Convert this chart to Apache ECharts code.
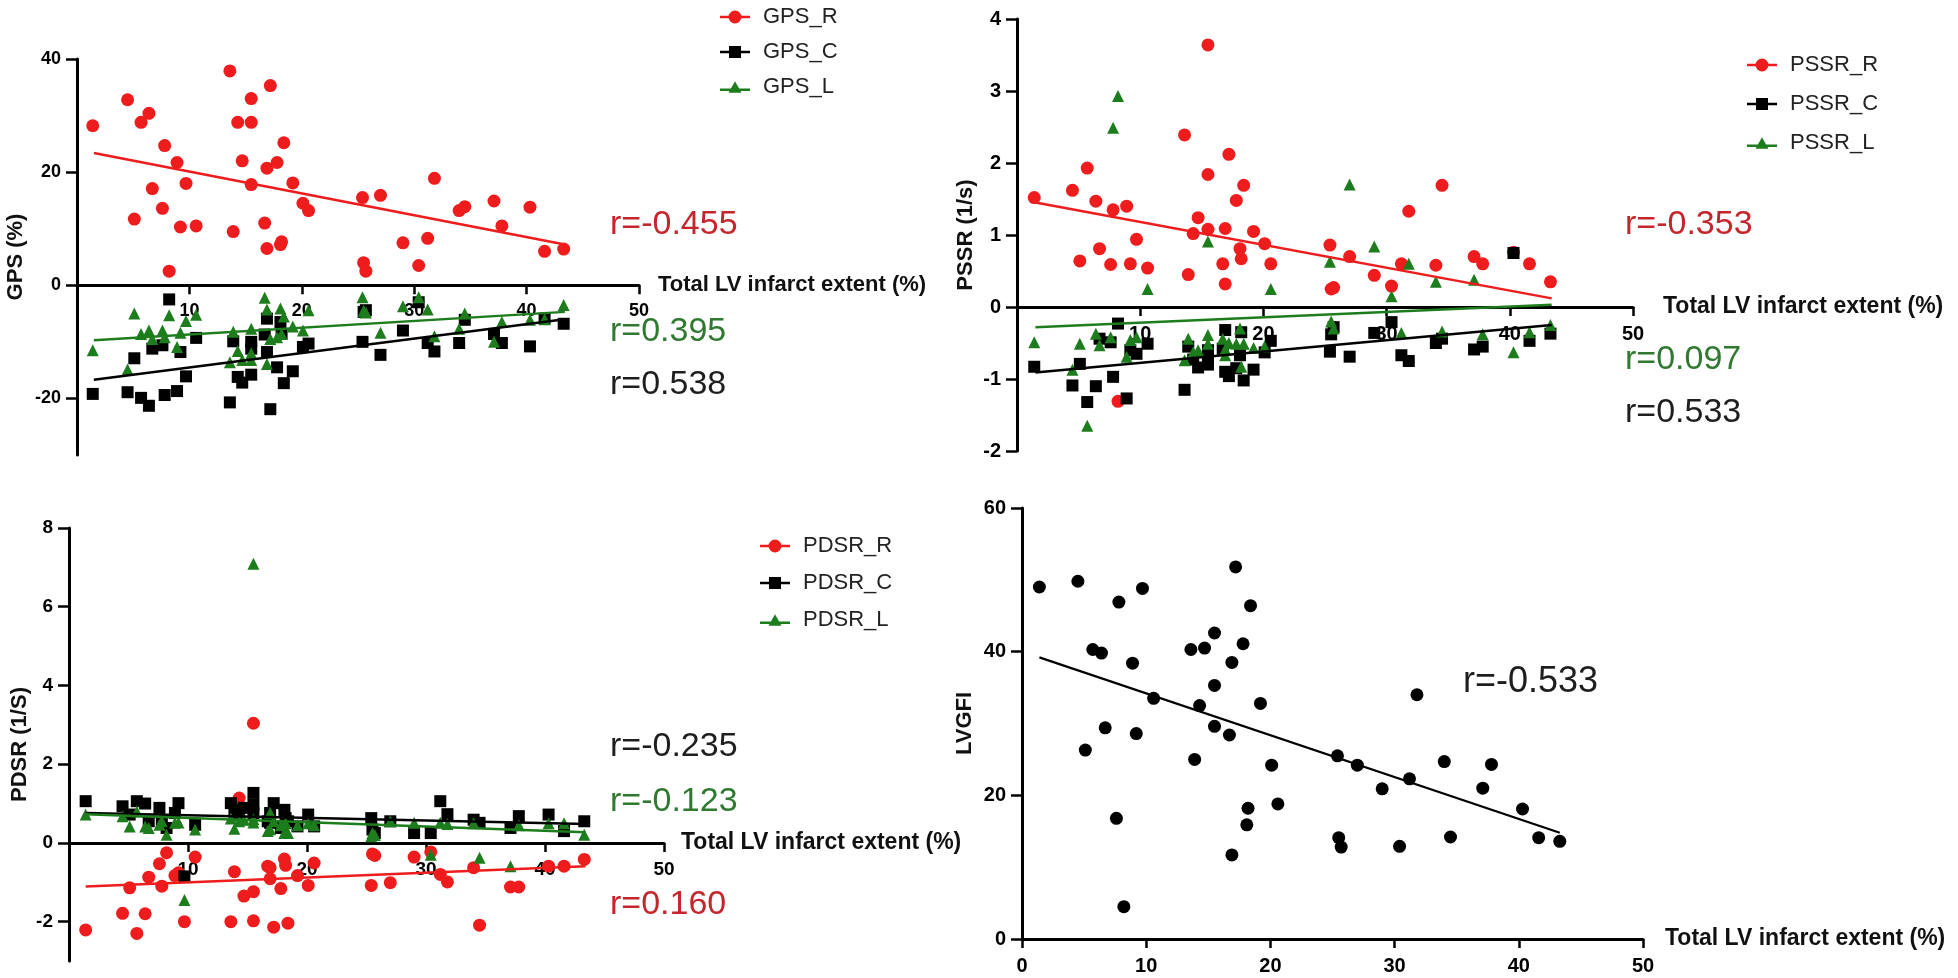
<!DOCTYPE html>
<html>
<head>
<meta charset="utf-8">
<script src="https://cdn.jsdelivr.net/npm/echarts@6/dist/echarts.min.js"></script>
<style>
html,body{margin:0;padding:0;background:#fff;}
#c{width:1958px;height:978px;}
</style>
</head>
<body>
<div id="c"></div>
<script>
// ---------- DATA ----------
// Total LV infarct extent (%) per patient (shared x values)
const infarctX = [1.4, 4.5, 5.1, 5.7, 6.4, 6.7, 7.6, 7.8, 8.2, 8.9, 9.2, 9.7, 10.6, 13.6, 13.9, 14.3, 14.7, 15.5, 15.5, 15.5,
  16.7, 16.9, 16.9, 17.2, 17.8, 18.1, 18.2, 18.4, 19.2, 20.1, 20.6, 25.4, 25.5, 25.7, 27.0, 29.0, 30.4, 31.2, 31.8, 34.0,
  34.5, 37.1, 37.8, 40.3, 41.6, 43.3];

const gpsR = [28.2, 32.8, 11.7, 28.8, 30.4, 17.1, 13.6, 24.7, 2.5, 21.7, 10.3, 18.0, 10.5, 37.9, 9.5, 28.8, 22.0, 33.0, 28.8, 17.8,
  11.0, 20.7, 6.5, 35.3, 21.7, 7.2, 7.7, 25.2, 18.1, 14.5, 13.2, 15.5, 4.0, 2.5, 15.9, 7.5, 3.5, 8.3, 18.9, 13.2,
  13.9, 14.9, 10.5, 13.8, 6.0, 6.4];
const gpsC = [-19.2, -18.9, -12.9, -19.9, -21.3, -11.2, -10.6, -19.4, -2.5, -18.7, -11.8, -16.1, -9.3, -20.7, -9.9, -16.2, -17.2, -11.2, -15.8, -10.0,
  -8.7, -11.8, -5.9, -21.9, -14.5, -6.5, -8.6, -17.3, -15.2, -10.9, -10.3, -10.0, -4.7, -4.4, -12.3, -8.0, -3.0, -10.2, -11.7, -10.2,
  -6.1, -8.6, -10.2, -10.8, -5.9, -6.8];
const gpsL = [-11.5, -14.9, -5.0, -8.6, -8.0, -9.5, -8.0, -9.2, -5.3, -10.9, -8.4, -6.3, -5.2, -13.6, -8.2, -11.6, -13.2, -7.7, -13.2, -12.0,
  -2.2, -13.9, -4.3, -9.5, -9.2, -4.1, -8.6, -5.5, -7.3, -8.0, -4.4, -2.1, -4.5, -4.8, -8.4, -3.7, -2.1, -4.3, -9.0, -7.7,
  -5.0, -10.0, -6.5, -6.1, -6.0, -3.5];
const gpsFitR = [[1.5, 23.4], [43.4, 7.2]];
const gpsFitC = [[1.5, -16.7], [43.4, -6.0]];
const gpsFitL = [[1.5, -9.7], [43.4, -4.7]];

const pssrR = [1.52, 1.62, 0.64, 1.93, 1.47, 0.81, 0.59, 1.35, -1.31, 1.40, 0.60, 0.94, 0.54, 2.39, 0.45, 1.02, 1.24, 3.64, 1.84, 1.08,
  0.60, 1.09, 0.32, 2.12, 1.48, 0.81, 0.67, 1.69, 1.05, 0.88, 0.60, 0.86, 0.25, 0.27, 0.70, 0.44, 0.29, 0.60, 1.33, 0.58,
  1.69, 0.70, 0.60, 0.76, 0.60, 0.35];
const pssrC = [-0.83, -1.09, -0.79, -1.32, -1.10, -0.44, -0.49, -0.97, -0.23, -1.27, -0.60, -0.65, -0.51, -1.15, -0.55, -0.73, -0.84, -0.60, -0.80, -0.72,
  -0.58, -0.32, -0.90, -0.96, -0.85, -0.67, -0.35, -1.02, -0.87, -0.63, -0.47, -0.62, -0.38, -0.28, -0.69, -0.36, -0.21, -0.67, -0.75, -0.50,
  -0.44, -0.59, -0.55, 0.75, -0.47, -0.37];
const pssrL = [-0.49, -0.87, -0.51, -1.65, -0.37, -0.53, -0.42, 2.49, 2.93, -0.69, -0.46, -0.42, 0.25, -0.74, -0.44, -0.63, -0.60, 0.91, -0.39, -0.51,
  -0.44, -0.67, -0.59, -0.50, -0.51, -0.30, -0.83, -0.51, -0.57, -0.55, 0.25, 0.63, -0.20, -0.30, 1.70, 0.84, 0.15, -0.36, 0.60, 0.35,
  -0.34, 0.38, -0.38, -0.63, -0.35, -0.25];
const pssrFitR = [[1.5, 1.45], [43.4, 0.12]];
const pssrFitC = [[1.5, -0.91], [43.4, -0.25]];
const pssrFitL = [[1.5, -0.28], [43.4, 0.03]];

const pdsrR = [-2.21, -1.79, -1.14, -2.30, -1.80, -0.87, -0.53, -1.10, -0.25, -0.83, -0.76, -2.00, -0.36, -2.00, -0.73, 1.14, -1.35, 3.04, -1.24, -1.98,
  -0.59, -0.91, -0.63, -2.14, -1.16, -0.41, -0.57, -2.04, -0.83, -1.08, -0.51, -1.08, -0.28, -0.32, -1.01, -0.36, -0.23, -0.80, -0.99, -0.63,
  -2.09, -1.12, -1.12, -0.59, -0.59, -0.42];
const pdsrC = [1.06, 0.93, 0.72, 1.06, 1.00, 0.55, 0.89, 0.51, 0.38, 0.76, 1.01, -0.85, 0.46, 1.01, 0.84, 0.70, 0.89, 1.27, 0.97, 0.76,
  0.55, 0.51, 0.76, 1.01, 0.38, 0.84, 0.63, 0.55, 0.42, 0.72, 0.42, 0.63, 0.34, 0.25, 0.55, 0.25, 0.25, 1.06, 0.73, 0.59,
  0.51, 0.38, 0.68, 0.72, 0.30, 0.55];
const pdsrL = [0.72, 0.68, 0.42, 0.80, 0.42, 0.38, 0.46, 0.55, 0.21, 0.51, 0.52, -1.45, 0.34, 0.62, 0.36, 0.55, 0.59, 7.09, 0.52, 0.60,
  0.30, 0.35, 0.76, 0.55, 0.45, 0.25, 0.50, 0.25, 0.45, 0.50, 0.45, 0.17, 0.25, 0.20, 0.55, 0.51, -0.30, 0.51, 0.48, 0.50,
  -0.38, -0.59, 0.45, 0.50, 0.50, 0.21];
const pdsrFitR = [[1.4, -1.11], [43.4, -0.59]];
const pdsrFitC = [[1.4, 0.76], [43.4, 0.48]];
const pdsrFitL = [[1.4, 0.73], [43.4, 0.27]];

const lvgfi = [49.0, 49.8, 26.3, 40.3, 39.8, 29.4, 16.8, 46.9, 4.5, 38.4, 28.6, 48.8, 33.5, 40.3, 25.0, 32.5, 40.5, 42.6, 35.3, 29.6,
  28.4, 38.5, 11.7, 51.8, 41.1, 15.9, 18.2, 46.4, 32.8, 24.2, 18.8, 25.5, 14.1, 12.8, 24.2, 20.9, 12.9, 22.3, 34.0, 24.7,
  14.2, 21.0, 24.3, 18.1, 14.1, 13.6];
const lvgfiFit = [[1.4, 39.2], [43.3, 14.8]];

// tick labels
const xTickTop = [10, 20, 30, 40, 50];
const gpsTicks = [-20, 0, 20, 40];
const pdsrTicks = [-2, 0, 2, 4, 6, 8];

// r annotations
const rLabels = [
  {t: 'r=-0.455', c: 'red'}, {t: 'r=0.395', c: 'green'}, {t: 'r=0.538', c: 'black'},
  {t: 'r=-0.353', c: 'red'}, {t: 'r=0.097', c: 'green'}, {t: 'r=0.533', c: 'black'},
  {t: 'r=-0.235', c: 'black'}, {t: 'r=-0.123', c: 'green'}, {t: 'r=0.160', c: 'red'},
  {t: 'r=-0.533', c: 'black'}
];

// ---------- STYLE ----------
const RED = '#ee1c1c', BLK = '#000000', GRN = '#1d7d1d';
const TXT = {red: '#c4262c', green: '#2f7a30', black: '#1e1e1e'};
const tickFont = '"Liberation Sans Narrow","Liberation Sans",Arial,sans-serif';
const textFont = '"Liberation Sans",Arial,sans-serif';

const ICON_CIRCLE = 'path://M0,5.25H30V7.75H0Z M15,0A6.5,6.5,0,1,1,14.99,0Z';
const ICON_SQUARE = 'path://M0,5.25H30V7.75H0Z M9,0.5H21V12.5H9Z';
const ICON_TRI = 'path://M0,8.25H30V10.75H0Z M15,1L21.5,12.5H8.5Z';

const grids = [
  {left: 77, top: 59, width: 562, height: 396},
  {left: 1017, top: 19, width: 616, height: 432},
  {left: 69, top: 528, width: 595, height: 433},
  {left: 1022, top: 508, width: 621, height: 431}
];
const yRanges = [[-30, 40], [-2, 4], [-3, 8], [0, 60]];

const pairs = ys => infarctX.map((x, i) => [x, ys[i]]);

// offset that places the x axis (line, ticks, labels, name) at y = 0 of its grid
const zeroOffset = gi => -grids[gi].height * (0 - yRanges[gi][0]) / (yRanges[gi][1] - yRanges[gi][0]);

function xAxisCfg(gi, labelSize, labels, nameGap, namePad) {
  const a = {
    gridIndex: gi, type: 'value', min: 0, max: 50, interval: 10,
    position: 'bottom', offset: zeroOffset(gi),
    axisLine: {onZero: false, lineStyle: {color: '#000', width: 3}},
    axisTick: {show: true, length: 9, lineStyle: {color: '#000', width: 2.5}},
    axisLabel: {fontFamily: tickFont, fontWeight: 'bold', fontSize: labelSize, color: '#000', margin: 17},
    splitLine: {show: false},
    name: 'Total LV infarct extent (%)', nameLocation: 'end', nameGap: nameGap,
    nameTextStyle: {fontFamily: textFont, fontWeight: 'bold', fontSize: gi === 0 ? 22 : 23, color: '#111', padding: namePad || 0}
  };
  if (labels) {
    a.axisLabel.customValues = labels;
    a.axisTick.customValues = labels;
  }
  return a;
}
function yAxisCfg(gi, name, ticks, interval, labelSize, nameGap) {
  const a = {
    gridIndex: gi, type: 'value', min: yRanges[gi][0], max: yRanges[gi][1],
    axisLine: {onZero: false, lineStyle: {color: '#000', width: 3}},
    axisTick: {show: true, length: 11, lineStyle: {color: '#000', width: 2.5}},
    axisLabel: {fontFamily: tickFont, fontWeight: 'bold', fontSize: labelSize, color: '#000', margin: 16},
    splitLine: {show: false},
    name: name, nameLocation: 'middle', nameRotate: 90, nameGap: nameGap,
    nameTextStyle: {fontFamily: textFont, fontWeight: 'bold', fontSize: 22, color: '#111'}
  };
  if (ticks) { a.axisLabel.customValues = ticks; a.axisTick.customValues = ticks; }
  if (interval) a.interval = interval;
  return a;
}
function scatter(name, gi, ys, color, symbol, size) {
  return {name: name, type: 'scatter', xAxisIndex: gi, yAxisIndex: gi, data: pairs(ys),
    symbol: symbol, symbolSize: size, itemStyle: {color: color, opacity: 1}, z: 3};
}
function fit(gi, data, color, w) {
  return {type: 'line', xAxisIndex: gi, yAxisIndex: gi, data: data, symbol: 'none', silent: true,
    lineStyle: {color: color, width: w || 2.5}, z: 4};
}
function legendCfg(names, left, top, gap) {
  return {
    orient: 'vertical', left: left, top: top, itemGap: gap, itemWidth: 30, itemHeight: 13,
    selectedMode: false,
    textStyle: {fontFamily: textFont, fontSize: 22, color: '#222', padding: [0, 0, 0, 8]},
    data: [
      {name: names[0], icon: ICON_CIRCLE},
      {name: names[1], icon: ICON_SQUARE},
      {name: names[2], icon: ICON_TRI}
    ]
  };
}

const rPos = [[610, 225], [610, 332], [610, 385], [1625, 225], [1625, 360], [1625, 413],
  [610, 747], [610, 802], [610, 905], [1463, 682]];

const option = {
  backgroundColor: '#ffffff',
  animation: false,
  grid: grids,
  xAxis: [
    xAxisCfg(0, 18, xTickTop, 19),
    xAxisCfg(1, 20, xTickTop, 30),
    xAxisCfg(2, 19, xTickTop, 17),
    xAxisCfg(3, 20, null, 22, [0, 0, 12, 0])
  ],
  yAxis: [
    yAxisCfg(0, 'GPS (%)', gpsTicks, null, 18, 50),
    yAxisCfg(1, 'PSSR (1/s)', null, 1, 20, 40),
    yAxisCfg(2, 'PDSR (1/S)', pdsrTicks, null, 19, 38),
    yAxisCfg(3, 'LVGFI', null, 20, 20, 46)
  ],
  legend: [
    legendCfg(['GPS_R', 'GPS_C', 'GPS_L'], 715, 1, 13),
    legendCfg(['PSSR_R', 'PSSR_C', 'PSSR_L'], 1742, 49, 17),
    legendCfg(['PDSR_R', 'PDSR_C', 'PDSR_L'], 755, 530, 15)
  ],
  series: [
    scatter('GPS_R', 0, gpsR, RED, 'circle', 13),
    scatter('GPS_C', 0, gpsC, BLK, 'rect', 12),
    scatter('GPS_L', 0, gpsL, GRN, 'triangle', 12),
    fit(0, gpsFitR, RED), fit(0, gpsFitC, BLK), fit(0, gpsFitL, GRN),

    scatter('PSSR_R', 1, pssrR, RED, 'circle', 13),
    scatter('PSSR_C', 1, pssrC, BLK, 'rect', 12),
    scatter('PSSR_L', 1, pssrL, GRN, 'triangle', 12),
    fit(1, pssrFitR, RED), fit(1, pssrFitC, BLK), fit(1, pssrFitL, GRN),

    scatter('PDSR_R', 2, pdsrR, RED, 'circle', 13),
    scatter('PDSR_C', 2, pdsrC, BLK, 'rect', 12),
    scatter('PDSR_L', 2, pdsrL, GRN, 'triangle', 12),
    fit(2, pdsrFitR, RED), fit(2, pdsrFitC, BLK), fit(2, pdsrFitL, GRN),

    scatter('LVGFI', 3, lvgfi, BLK, 'circle', 13),
    fit(3, lvgfiFit, BLK, 2.2)
  ],
  graphic: rLabels.map((r, i) => ({
    type: 'text', x: rPos[i][0], y: rPos[i][1], silent: true,
    style: {text: r.t, fill: TXT[r.c], fontFamily: textFont, fontSize: i === 9 ? 36 : 34,
      verticalAlign: 'middle', align: 'left'}
  }))
};

const chart = echarts.init(document.getElementById('c'), null, {renderer: 'canvas'});
chart.setOption(option);
</script>
</body>
</html>
